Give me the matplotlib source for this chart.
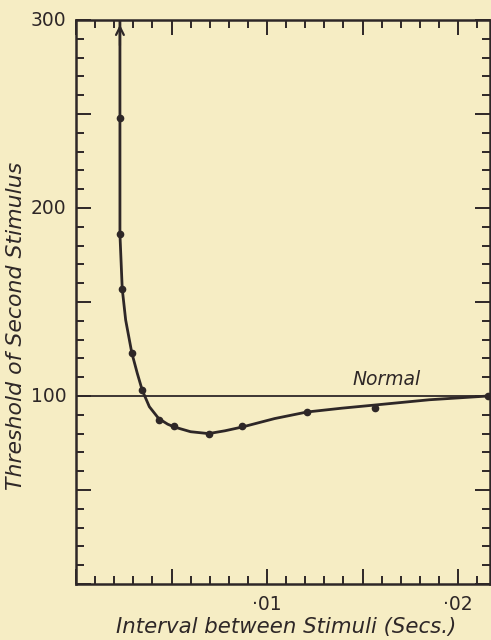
import numpy as np
import matplotlib.pyplot as plt
from matplotlib.ticker import MultipleLocator

# measured points (interval in secs, threshold of 2nd stimulus)
interval = [0.0023, 0.0023, 0.00242, 0.00292, 0.00347, 0.00433, 0.00515,
            0.00694, 0.0087, 0.0121, 0.01565, 0.02157]
threshold = [248, 186, 157, 123, 103, 87.5, 84, 80, 84, 91.5, 93.5, 100]

# hand-drawn curve
curve_x = [0.0023, 0.0023, 0.0023, 0.00242, 0.0026, 0.00292, 0.00321, 0.00347,
           0.00384, 0.00433, 0.0048, 0.00515, 0.006, 0.00694, 0.0078, 0.0087,
           0.0104, 0.0121, 0.0139, 0.01565, 0.0185, 0.02157, 0.0218]
curve_y = [300, 248, 186, 157, 140.4, 123, 112, 103, 94.3, 88, 85, 83.5, 81,
           80, 81.5, 83.5, 88, 91.5, 93.5, 95.2, 98, 100, 100]

normal_level = 100
ytick_vals = [100, 200, 300]
ytick_labels = ['100', '200', '300']
xtick_vals = [0.01, 0.02]
xtick_labels = ['·01', '·02']

bg = '#f6edc4'
ink = '#2e2727'

fig = plt.figure(figsize=(4.91, 6.4), dpi=100, facecolor=bg)
ax = fig.add_axes([0.1548, 0.0875, 0.843, 0.88125], facecolor=bg)

ax.axhline(normal_level, color=ink, lw=1.3)
ax.plot(curve_x, curve_y, color=ink, lw=2.0, solid_joinstyle='round')
ax.plot(interval, threshold, 'o', color=ink, ms=4.5)
ax.annotate('', xy=(0.0023, 299), xytext=(0.0023, 285),
            arrowprops=dict(arrowstyle='->', color=ink, lw=1.6,
                            mutation_scale=14))

ax.text(0.01445, 109, 'Normal', style='italic', fontsize=13.5, color=ink,
        va='center', ha='left')

ax.set_xlim(0, 0.02167)
ax.set_ylim(0, 300)

ax.xaxis.set_major_locator(MultipleLocator(0.005))
ax.xaxis.set_minor_locator(MultipleLocator(0.001))
ax.yaxis.set_major_locator(MultipleLocator(50))
ax.yaxis.set_minor_locator(MultipleLocator(10))
ax.tick_params(which='both', direction='in', top=True, right=True,
               color=ink, width=1.4, labelbottom=False, labelleft=False)
ax.tick_params(which='major', length=11)
ax.tick_params(which='minor', length=6)

for v, s in zip(ytick_vals, ytick_labels):
    ax.text(-0.0005, v, s, ha='right', va='center', fontsize=13.5, color=ink)
for v, s in zip(xtick_vals, xtick_labels):
    ax.text(v, -6, s, ha='center', va='top', fontsize=13.5, color=ink)

for sp in ax.spines.values():
    sp.set_color(ink)
    sp.set_linewidth(1.8)

# axis titles placed as in the original plate
fig.text(286 / 491, 1 - 627 / 640, 'Interval between Stimuli (Secs.)',
         style='italic', fontsize=15.3, color=ink, ha='center', va='center')
fig.text(16 / 491, 1 - 326 / 640, 'Threshold of Second Stimulus',
         style='italic', fontsize=15.8, color=ink, ha='center', va='center',
         rotation=90)

fig.savefig('out.png', dpi=100, facecolor=bg)
